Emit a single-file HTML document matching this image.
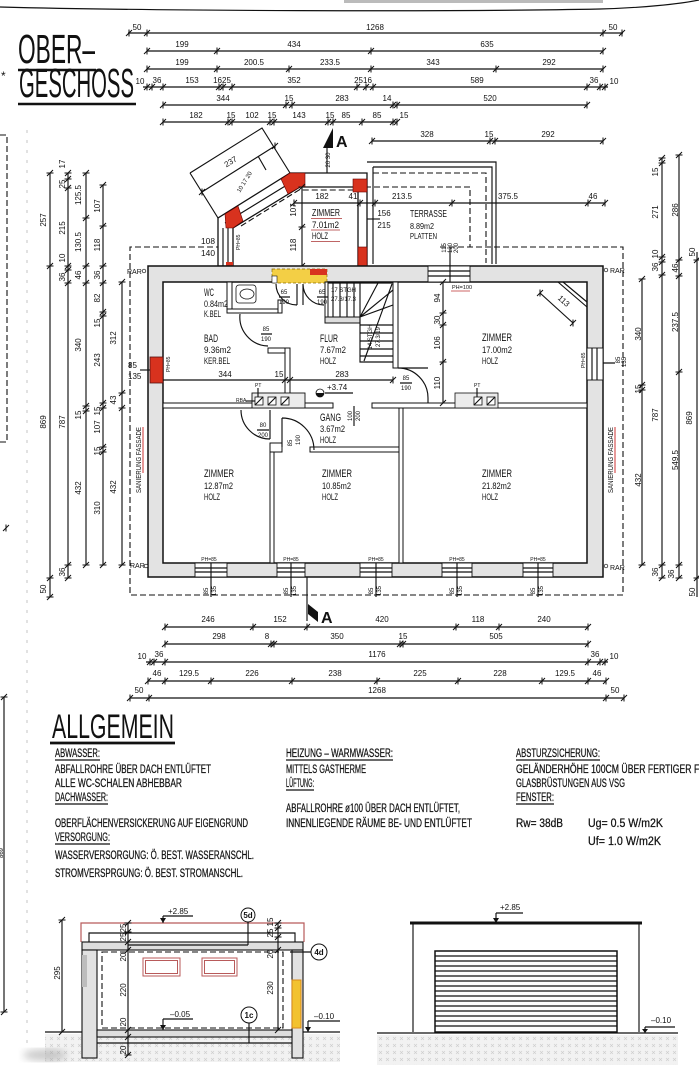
<!DOCTYPE html>
<html><head><meta charset="utf-8"><style>
html,body{margin:0;padding:0;background:#fff;}
svg{display:block}
text{font-family:"Liberation Sans",Arial,sans-serif;fill:#111}
.n{font-size:8px;text-anchor:middle}
.s{font-size:6px;text-anchor:middle}
.t{font-size:5px}
.l{stroke:#111;stroke-width:1.15;fill:none}
.dsh{stroke:#111;stroke-width:1.1;fill:none;stroke-dasharray:6,3}
.iw{fill:#fff;stroke:#111;stroke-width:1}
.rm{font-size:11px}
.b{font-size:11.5px;stroke:#111;stroke-width:0.25}
</style></head><body>
<svg xmlns="http://www.w3.org/2000/svg" xmlns:xlink="http://www.w3.org/1999/xlink" width="699" height="1080" viewBox="0 0 699 1080">
<defs>
<g id="h"><path d="M-3,3L3,-3M0,-3.5V3.5" stroke="#111" stroke-width="1" fill="none"/></g>
<g id="v"><path d="M-3,3L3,-3M-3.5,0H3.5" stroke="#111" stroke-width="1" fill="none"/></g>
<pattern id="hat" width="7" height="7" patternUnits="userSpaceOnUse"><rect width="7" height="7" fill="#f2f2f2"/><path d="M1,1L4,4M4,1L1,4" stroke="#cdcdcd" stroke-width="0.6"/></pattern>
<filter id="bl"><feGaussianBlur stdDeviation="4"/></filter>
</defs>
<rect width="699" height="1080" fill="#fff"/>

<!-- top sheet edge -->
<path d="M0,7 C150,11 450,12 600,9 C640,8 680,4 699,0" class="l" stroke-width="1.5"/>
<rect x="344" y="0" width="259" height="3" fill="#bbb"/>
<line x1="27" y1="130" x2="27" y2="1050" stroke="#e2e2e2" stroke-width="2" stroke-dasharray="3,7"/>

<!-- Title -->
<text x="18" y="63" font-size="41" textLength="77" lengthAdjust="spacingAndGlyphs">OBER–</text>
<line x1="18" y1="70" x2="96" y2="70" stroke="#111" stroke-width="2.6"/>
<text x="19" y="97" font-size="41" textLength="115" lengthAdjust="spacingAndGlyphs">GESCHOSS</text>
<line x1="18" y1="104" x2="136" y2="104" stroke="#111" stroke-width="2.6"/>
<text x="1" y="80" font-size="12">*</text>

<path d="M0,135 H7 V442 H0" class="dsh" stroke-dasharray="9,5"/>
<use href="#h" x="6" y="528"/>

<!-- TOP DIMENSIONS -->
<g class="l">
<path d="M128,33H623 M147,51H603 M147,69H603 M143,87H608 M163,105H587 M163,122H397 M372,141H603"/>
</g>
<use href="#h" x="129" y="33"/><use href="#h" x="147" y="33"/><use href="#h" x="603" y="33"/><use href="#h" x="622" y="33"/>
<text class="n" x="137" y="30">50</text><text class="n" x="375" y="30">1268</text><text class="n" x="613" y="30">50</text>
<use href="#h" x="147" y="51"/><use href="#h" x="217" y="51"/><use href="#h" x="371" y="51"/><use href="#h" x="603" y="51"/>
<text class="n" x="182" y="47">199</text><text class="n" x="294" y="47">434</text><text class="n" x="487" y="47">635</text>
<use href="#h" x="147" y="69"/><use href="#h" x="217" y="69"/><use href="#h" x="289" y="69"/><use href="#h" x="371" y="69"/><use href="#h" x="496" y="69"/><use href="#h" x="603" y="69"/>
<text class="n" x="182" y="65">199</text><text class="n" x="254" y="65">200.5</text><text class="n" x="330" y="65">233.5</text><text class="n" x="433" y="65">343</text><text class="n" x="549" y="65">292</text>
<use href="#h" x="147" y="87"/><use href="#h" x="152" y="87"/><use href="#h" x="163" y="87"/><use href="#h" x="219" y="87"/><use href="#h" x="223" y="87"/><use href="#h" x="232" y="87"/><use href="#h" x="357" y="87"/><use href="#h" x="366" y="87"/><use href="#h" x="373" y="87"/><use href="#h" x="587" y="87"/><use href="#h" x="600" y="87"/><use href="#h" x="605" y="87"/>
<text class="n" x="140" y="84">10</text><text class="n" x="157" y="83">36</text><text class="n" x="192" y="83">153</text><text class="n" x="222" y="83" font-size="7">1625</text><text class="n" x="294" y="83">352</text><text class="n" x="363" y="83" font-size="7">2516</text><text class="n" x="477" y="83">589</text><text class="n" x="594" y="83">36</text><text class="n" x="614" y="84">10</text>
<use href="#h" x="163" y="105"/><use href="#h" x="286" y="105"/><use href="#h" x="292" y="105"/><use href="#h" x="393" y="105"/><use href="#h" x="397" y="105"/><use href="#h" x="587" y="105"/>
<text class="n" x="223" y="101">344</text><text class="n" x="289" y="101">15</text><text class="n" x="342" y="101">283</text><text class="n" x="387" y="101">14</text><text class="n" x="490" y="101">520</text>
<use href="#h" x="163" y="122"/><use href="#h" x="228" y="122"/><use href="#h" x="232" y="122"/><use href="#h" x="270" y="122"/><use href="#h" x="274" y="122"/><use href="#h" x="328" y="122"/><use href="#h" x="333" y="122"/><use href="#h" x="362" y="122"/><use href="#h" x="393" y="122"/><use href="#h" x="397" y="122"/>
<text class="n" x="196" y="118">182</text><text class="n" x="231" y="118">15</text><text class="n" x="252" y="118">102</text><text class="n" x="272" y="118">15</text><text class="n" x="299" y="118">143</text><text class="n" x="330" y="118">15</text><text class="n" x="346" y="118">85</text><text class="n" x="377" y="118">85</text><text class="n" x="404" y="118">15</text>
<use href="#h" x="372" y="141"/><use href="#h" x="490" y="141"/><use href="#h" x="495" y="141"/><use href="#h" x="603" y="141"/>
<text class="n" x="427" y="137">328</text><text class="n" x="489" y="137">15</text><text class="n" x="548" y="137">292</text>

<!-- LEFT VERTICAL DIMENSIONS -->
<g class="l"><path d="M50,173V597 M68,173V578 M86,173V565 M103,185V565 M122,282V565"/></g>
<use href="#v" x="50" y="173"/><use href="#v" x="50" y="266"/><use href="#v" x="50" y="578"/><use href="#v" x="50" y="597"/>
<use href="#v" x="68" y="173"/><use href="#v" x="68" y="179"/><use href="#v" x="68" y="188"/><use href="#v" x="68" y="266"/><use href="#v" x="68" y="270"/><use href="#v" x="68" y="283"/><use href="#v" x="68" y="565"/><use href="#v" x="68" y="578"/>
<use href="#v" x="86" y="173"/><use href="#v" x="86" y="218"/><use href="#v" x="86" y="266"/><use href="#v" x="86" y="283"/><use href="#v" x="86" y="406"/><use href="#v" x="86" y="411"/><use href="#v" x="86" y="565"/>
<use href="#v" x="103" y="185"/><use href="#v" x="103" y="226"/><use href="#v" x="103" y="266"/><use href="#v" x="103" y="283"/><use href="#v" x="103" y="312"/><use href="#v" x="103" y="316"/><use href="#v" x="103" y="403"/><use href="#v" x="103" y="408"/><use href="#v" x="103" y="447"/><use href="#v" x="103" y="452"/><use href="#v" x="103" y="565"/>
<use href="#v" x="122" y="282"/><use href="#v" x="122" y="393"/><use href="#v" x="122" y="408"/><use href="#v" x="122" y="565"/>
<g class="n">
<text transform="translate(46,220) rotate(-90)">257</text><text transform="translate(46,422) rotate(-90)">869</text><text transform="translate(46,589) rotate(-90)">50</text>
<text transform="translate(65,164) rotate(-90)">17</text><text transform="translate(65,184) rotate(-90)">25</text><text transform="translate(65,228) rotate(-90)">215</text><text transform="translate(65,258) rotate(-90)">10</text><text transform="translate(65,277) rotate(-90)">36</text><text transform="translate(65,422) rotate(-90)">787</text><text transform="translate(65,572) rotate(-90)">36</text>
<text transform="translate(81,195) rotate(-90)">125.5</text><text transform="translate(81,242) rotate(-90)">130.5</text><text transform="translate(81,275) rotate(-90)">46</text><text transform="translate(81,345) rotate(-90)">340</text><text transform="translate(81,415) rotate(-90)">15</text><text transform="translate(81,488) rotate(-90)">432</text>
<text transform="translate(100,206) rotate(-90)">107</text><text transform="translate(100,245) rotate(-90)">118</text><text transform="translate(100,275) rotate(-90)">36</text><text transform="translate(100,298) rotate(-90)">82</text><text transform="translate(100,323) rotate(-90)">15</text><text transform="translate(100,360) rotate(-90)">243</text><text transform="translate(100,411) rotate(-90)">15</text><text transform="translate(100,427) rotate(-90)">107</text><text transform="translate(100,451) rotate(-90)">15</text><text transform="translate(100,508) rotate(-90)">310</text>
<text transform="translate(116,338) rotate(-90)">312</text><text transform="translate(116,400) rotate(-90)">43</text><text transform="translate(116,487) rotate(-90)">432</text>
</g>

<!-- RIGHT VERTICAL DIMENSIONS -->
<g class="l"><path d="M642,279V565 M662,158V578 M679,155V578 M697,252V597"/></g>
<use href="#v" x="642" y="279"/><use href="#v" x="642" y="385"/><use href="#v" x="642" y="390"/><use href="#v" x="642" y="565"/>
<use href="#v" x="662" y="158"/><use href="#v" x="662" y="163"/><use href="#v" x="662" y="257"/><use href="#v" x="662" y="262"/><use href="#v" x="662" y="275"/><use href="#v" x="662" y="565"/><use href="#v" x="662" y="578"/>
<use href="#v" x="679" y="155"/><use href="#v" x="679" y="260"/><use href="#v" x="679" y="276"/><use href="#v" x="679" y="372"/><use href="#v" x="679" y="565"/><use href="#v" x="679" y="578"/>
<use href="#v" x="697" y="260"/><use href="#v" x="697" y="578"/>
<g class="n">
<text transform="translate(641,334) rotate(-90)">340</text><text transform="translate(641,389) rotate(-90)">15</text><text transform="translate(641,480) rotate(-90)">432</text>
<text transform="translate(658,172) rotate(-90)">15</text><text transform="translate(658,212) rotate(-90)">271</text><text transform="translate(658,254) rotate(-90)">10</text><text transform="translate(658,267) rotate(-90)">36</text><text transform="translate(658,415) rotate(-90)">787</text><text transform="translate(658,572) rotate(-90)">36</text>
<text transform="translate(678,210) rotate(-90)">286</text><text transform="translate(678,268) rotate(-90)">46</text><text transform="translate(678,322) rotate(-90)">237.5</text><text transform="translate(678,460) rotate(-90)">549.5</text><text transform="translate(674,574) rotate(-90)">36</text>
<text transform="translate(692,418) rotate(-90)">869</text><text transform="translate(695,252) rotate(-90)">50</text><text transform="translate(695,592) rotate(-90)">50</text>
</g>

<!-- DASHED FACADE LINES -->
<path d="M440,247 H623 V595 H130 V247 H218" class="dsh"/>
<path d="M365,187 H470 V247" class="dsh"/>
<path d="M373,173 H486 V263" class="dsh"/>

<!-- TERRACE -->
<path d="M367,162 H496 V264 M373,167 H492 V264 M373,167 V264" class="l"/>

<!-- 237 bay box -->
<path d="M190,173 L262,128 L290,173 M190,173 L218,218" class="l"/>
<path d="M202,192 L275,146 M258,156 L266,170" class="l" stroke-width="0.8"/>
<use href="#h" x="202" y="192"/><use href="#h" x="275" y="146"/>
<text class="n" transform="translate(232,164) rotate(-32)">237</text>
<text class="s" transform="translate(246,183) rotate(-58)">10 17 20</text>

<!-- ANNEX -->
<path d="M218,266 V218 L290,173 H367 V266 H358 V187 H300 L233,228 V266 Z" fill="#fff" stroke="#111" stroke-width="1.3"/>
<path d="M225,223 L295,180 M223,228 V266 M228,228 V266" class="l" stroke-width="0.7"/>
<path d="M241,226 L299,190 H354" class="dsh" stroke-dasharray="4,3" stroke-width="0.9"/>
<polygon points="225,214 238,206 243,221 233,228 226,228" fill="#d8321e" stroke="#600" stroke-width="0.6"/>
<polygon points="281,179 290,173 305,173 305,187 300,187 288,194" fill="#d8321e" stroke="#600" stroke-width="0.6"/>
<rect x="226" y="262" width="7" height="6" fill="#d8321e"/>
<rect x="353" y="179" width="14" height="13" fill="#d8321e" stroke="#600" stroke-width="0.6"/>
<rect x="358" y="247" width="9" height="21" fill="#d8321e" stroke="#600" stroke-width="0.6"/>
<!-- section A top -->
<line x1="327" y1="147" x2="327" y2="173" class="l"/>
<polygon points="323,148 333,128 333,148" fill="#111"/>
<text x="336" y="147" font-size="16" font-weight="bold">A</text>
<text class="s" transform="translate(330,160) rotate(-90)">20 30</text>

<!-- annex dims -->
<path d="M294,203 H605 M302,187 V266" class="l"/>
<use href="#h" x="294" y="203"/><use href="#h" x="360" y="203"/><use href="#h" x="375" y="203"/><use href="#h" x="452" y="203"/><use href="#h" x="588" y="203"/><use href="#h" x="605" y="203"/>
<use href="#v" x="302" y="187"/><use href="#v" x="302" y="227"/><use href="#v" x="302" y="266"/>
<text class="n" x="322" y="199">182</text><text class="n" x="353" y="199">41</text><text class="n" x="402" y="199">213.5</text><text class="n" x="508" y="199">375.5</text><text class="n" x="593" y="199">46</text>
<text class="n" transform="translate(296,210) rotate(-90)">107</text><text class="n" transform="translate(296,245) rotate(-90)">118</text>
<text x="312" y="216" font-size="10" textLength="28" lengthAdjust="spacingAndGlyphs">ZIMMER</text>
<text x="312" y="228" font-size="9" textLength="27" lengthAdjust="spacingAndGlyphs">7.01m2</text>
<text x="312" y="239" font-size="9" textLength="16" lengthAdjust="spacingAndGlyphs">HOLZ</text>
<path d="M311,218.5H342 M311,230H340 M311,241.5H340" stroke="#a33" stroke-width="0.8"/>
<line x1="367" y1="219" x2="380" y2="219" class="l" stroke-width="0.8"/>
<text class="n" x="384" y="216">156</text><text class="n" x="384" y="228">215</text>
<text x="410" y="217" font-size="10" textLength="37" lengthAdjust="spacingAndGlyphs">TERRASSE</text>
<text x="410" y="229" font-size="8" textLength="24" lengthAdjust="spacingAndGlyphs">8.89m2</text>
<text x="410" y="239" font-size="8" textLength="27" lengthAdjust="spacingAndGlyphs">PLATTEN</text>
<text class="s" transform="translate(446,248) rotate(-90)">115</text><text class="s" transform="translate(452,248) rotate(-90)">120</text><text class="s" transform="translate(458,248) rotate(-90)">200</text>
<text x="201" y="244" font-size="8" textLength="14" lengthAdjust="spacingAndGlyphs">108</text>
<text x="201" y="256" font-size="8" textLength="14" lengthAdjust="spacingAndGlyphs">140</text>
<text class="t" transform="translate(240,250) rotate(-90)">PH=85</text>

<!-- MAIN WALLS -->
<path d="M148,266 H603 V577 H148 Z M163,282 V563 H587 V282 Z" fill="#e3e3e3" fill-rule="evenodd" stroke="#111" stroke-width="1.5"/>
<rect x="272" y="269" width="55" height="14" fill="#f3cf45" stroke="#8a6d00" stroke-width="0.7" stroke-dasharray="3,2"/>
<rect x="272" y="276" width="5" height="7" fill="#fff" stroke="#111" stroke-width="0.6"/>
<rect x="310" y="269" width="17" height="6" fill="#d8321e"/>
<rect x="428" y="266" width="42" height="16" fill="#fff" stroke="#111" stroke-width="0.9"/>
<path d="M428,271 H470 M428,276 H470 M450,247 V282" class="l" stroke-width="0.8"/>
<text x="452" y="289" font-size="5.5">PH=100</text>
<line x1="451" y1="291" x2="470" y2="291" stroke="#b33" stroke-width="0.7"/>
<rect x="150" y="357" width="13" height="26" fill="#d8321e" stroke="#511" stroke-width="0.8"/>
<text x="128" y="368" font-size="8">85</text><text x="128" y="379" font-size="8">135</text>
<line x1="140" y1="370" x2="150" y2="370" class="l" stroke-width="0.7"/>
<text class="t" transform="translate(170,372) rotate(-90)">PH=85</text>
<rect x="587" y="348" width="16" height="32" fill="#fff" stroke="#111" stroke-width="0.9"/>
<path d="M592,348 V380 M597,348 V380 M603,363 H615" class="l" stroke-width="0.7"/>
<text class="t" transform="translate(585,368) rotate(-90)">PH=85</text>
<text class="s" transform="translate(620,360) rotate(-90)">85</text><text class="s" transform="translate(626,362) rotate(-90)">135</text>
<g fill="#fff" stroke="#111" stroke-width="0.9">
<rect x="195" y="563" width="32" height="14"/><rect x="277" y="563" width="28" height="14"/><rect x="360" y="563" width="32" height="14"/><rect x="442" y="563" width="30" height="14"/><rect x="523" y="563" width="30" height="14"/>
</g>
<path d="M195,568H227M195,572H227M277,568H305M277,572H305M360,568H392M360,572H392M442,568H472M442,572H472M523,568H553M523,572H553" class="l" stroke-width="0.7"/>
<path d="M211,563V597M291,563V597M376,563V597M457,563V597M538,563V597" class="l" stroke-width="0.8"/>
<g class="t" text-anchor="middle"><text x="209" y="561">PH=85</text><text x="291" y="561">PH=85</text><text x="376" y="561">PH=85</text><text x="457" y="561">PH=85</text><text x="538" y="561">PH=85</text></g>
<g class="s">
<text transform="translate(208,591) rotate(-90)">85</text><text transform="translate(216,591) rotate(-90)">135</text>
<text transform="translate(288,591) rotate(-90)">85</text><text transform="translate(296,591) rotate(-90)">135</text>
<text transform="translate(373,591) rotate(-90)">85</text><text transform="translate(381,591) rotate(-90)">135</text>
<text transform="translate(454,591) rotate(-90)">85</text><text transform="translate(462,591) rotate(-90)">135</text>
<text transform="translate(535,591) rotate(-90)">85</text><text transform="translate(543,591) rotate(-90)">135</text>
</g>
<g font-size="7"><text x="127" y="274">RAR</text><text x="130" y="568">RAR</text><text x="610" y="273">RAR</text><text x="610" y="570">RAR</text></g>
<g fill="#fff" stroke="#111" stroke-width="0.7"><circle cx="144" cy="271" r="1.8"/><circle cx="146" cy="566" r="1.8"/><circle cx="606" cy="270" r="1.8"/><circle cx="606" cy="566" r="1.8"/></g>
<text font-size="7.5" text-anchor="middle" transform="translate(141,460) rotate(-90)" textLength="66" lengthAdjust="spacingAndGlyphs">SANIERUNG FASSADE</text>
<line x1="143" y1="427" x2="143" y2="473" stroke="#c33" stroke-width="1"/>
<text font-size="7.5" text-anchor="middle" transform="translate(613,460) rotate(-90)" textLength="66" lengthAdjust="spacingAndGlyphs">SANIERUNG FASSADE</text>
<line x1="615" y1="427" x2="615" y2="473" stroke="#c33" stroke-width="1"/>

<!-- INTERIOR WALLS -->
<g class="iw">
<rect x="163" y="403" width="170" height="5"/>
<rect x="372" y="403" width="215" height="5"/>
<rect x="393" y="282" width="5" height="86"/>
<rect x="399" y="408" width="4" height="155"/>
<rect x="270" y="443" width="4" height="120"/>
<rect x="310" y="447" width="89" height="5"/>
<rect x="270" y="443" width="12" height="9"/>
<rect x="227" y="282" width="5" height="31"/>
<rect x="227" y="309" width="51" height="4"/>
<rect x="278" y="300" width="4" height="13"/>
<rect x="268" y="348" width="19" height="5"/>
<rect x="285" y="348" width="5" height="55"/>
<rect x="325" y="282" width="3" height="40"/>
<rect x="325" y="317" width="35" height="6" fill="#ddd"/>
</g>
<path d="M558,282 L587,307 M563,282 L587,302" class="l" stroke-width="1"/>
<path d="M540,293 L573,323" class="l" stroke-width="0.8"/>
<use href="#h" x="540" y="293"/><use href="#h" x="573" y="323"/>
<text class="n" transform="translate(562,303) rotate(42)">113</text>
<rect x="236" y="285" width="20" height="18" rx="3" fill="#fff" stroke="#111" stroke-width="0.8"/>
<ellipse cx="247" cy="294" rx="7" ry="5" fill="#fff" stroke="#111" stroke-width="0.8"/>
<g class="l" stroke-width="0.7">
<path d="M328,283 H393 M333,283V317 M340,283V317 M347,283V317 M354,283V317 M360,283V362 H393"/>
<path d="M360,317 L393,290 M360,317 L378,283 M360,317 L393,305"/>
<path d="M360,325H393 M360,333H393 M360,341H393 M360,349H393 M360,356H393"/>
<path d="M364,361 L392,284"/>
</g>
<text x="331" y="292" font-size="6">17 STGH</text>
<text x="331" y="301" font-size="6">27.3/17.3</text>
<text class="s" transform="translate(372,337) rotate(-90)">14 STGH</text>
<text class="s" transform="translate(380,337) rotate(-90)">27.3/19</text>
<g class="l" stroke-width="0.8">
<path d="M276,284 A21,21 0 0 0 297,305 M297,284 V305"/>
<path d="M303,284 V305 M303,284 A21,21 0 0 0 324,305"/>
<path d="M240,314 A29,29 0 0 0 268,346"/>
<path d="M398,368 A30,30 0 0 1 428,398 V403 M398,368 H428"/>
<path d="M241,410 A29,29 0 0 0 270,439 M270,410 V439"/>
<path d="M282,418 A32,32 0 0 1 314,450 M282,418 V447"/>
</g>
<g class="s" font-size="7.5">
<text x="284" y="294">65</text><text x="284" y="304">190</text>
<text x="322" y="294">65</text><text x="322" y="304">190</text>
<text x="266" y="331">85</text><text x="266" y="341">190</text>
<text x="406" y="380">85</text><text x="406" y="390">190</text>
<text x="263" y="427">80</text><text x="263" y="437">200</text>
</g>
<path d="M279,297H290 M317,297H328 M261,334H272 M400,383H412 M257,430H269" class="l" stroke-width="0.6"/>
<text class="s" font-size="7" transform="translate(292,443) rotate(-90)">85</text><text class="s" font-size="7" transform="translate(300,440) rotate(-90)">190</text>
<text class="s" font-size="7" transform="translate(352,416) rotate(-90)">100</text><text class="s" font-size="7" transform="translate(360,416) rotate(-90)">200</text>
<line x1="354" y1="406" x2="354" y2="426" class="l" stroke-width="0.6"/>
<rect x="252" y="393" width="53" height="15" fill="#ececec" stroke="#111" stroke-width="0.9"/>
<g fill="#fff" stroke="#111" stroke-width="0.8">
<rect x="255" y="397" width="8" height="8"/><rect x="268" y="397" width="8" height="8"/><rect x="281" y="397" width="8" height="8"/>
<rect x="455" y="393" width="43" height="15" fill="#ececec"/>
<rect x="474" y="397" width="8" height="8"/><rect x="487" y="397" width="8" height="8"/>
</g>
<path d="M255,405L263,397M268,405L276,397M281,405L289,397M474,405L482,397M487,405L495,397" class="l" stroke-width="0.8"/>
<text x="236" y="402" font-size="5">RBA</text><line x1="246" y1="401" x2="255" y2="401" class="l" stroke-width="0.5"/>
<text x="255" y="387" font-size="5">PT</text><line x1="258" y1="388" x2="258" y2="397" class="l" stroke-width="0.5"/>
<text x="474" y="387" font-size="5">PT</text><line x1="477" y1="388" x2="477" y2="397" class="l" stroke-width="0.5"/>
<path d="M163,380 H393 M443,282 V403" class="l" stroke-width="0.8"/>
<use href="#h" x="285" y="380"/><use href="#h" x="290" y="380"/><use href="#h" x="393" y="380"/>
<use href="#v" x="443" y="282"/><use href="#v" x="443" y="313"/><use href="#v" x="443" y="325"/><use href="#v" x="443" y="362"/><use href="#v" x="443" y="403"/>
<text class="n" x="225" y="377">344</text><text class="n" x="279" y="377">15</text><text class="n" x="342" y="377">283</text>
<text class="n" transform="translate(440,298) rotate(-90)">94</text><text class="n" transform="translate(440,320) rotate(-90)">30</text><text class="n" transform="translate(440,343) rotate(-90)">106</text><text class="n" transform="translate(440,383) rotate(-90)">110</text>
<circle cx="320" cy="393" r="4" fill="#fff" stroke="#111" stroke-width="0.8"/>
<path d="M316,393 A4,4 0 0 0 324,393 Z" fill="#111"/>
<line x1="325" y1="393" x2="353" y2="393" class="l" stroke-width="0.8"/>
<text x="327" y="390" font-size="8">+3.74</text>

<!-- ROOM LABELS -->
<g class="rm">
<text x="204" y="296" textLength="10" lengthAdjust="spacingAndGlyphs">WC</text>
<text x="204" y="307" font-size="9" textLength="24" lengthAdjust="spacingAndGlyphs">0.84m2</text>
<text x="204" y="317" font-size="9" textLength="17" lengthAdjust="spacingAndGlyphs">K.BEL</text>
<text x="204" y="342" textLength="14" lengthAdjust="spacingAndGlyphs">BAD</text>
<text x="204" y="353" font-size="9" textLength="27" lengthAdjust="spacingAndGlyphs">9.36m2</text>
<text x="204" y="364" font-size="9" textLength="26" lengthAdjust="spacingAndGlyphs">KER.BEL</text>
<text x="320" y="342" textLength="18" lengthAdjust="spacingAndGlyphs">FLUR</text>
<text x="320" y="353" font-size="9" textLength="26" lengthAdjust="spacingAndGlyphs">7.67m2</text>
<text x="320" y="364" font-size="9" textLength="16" lengthAdjust="spacingAndGlyphs">HOLZ</text>
<text x="482" y="341" textLength="30" lengthAdjust="spacingAndGlyphs">ZIMMER</text>
<text x="482" y="353" font-size="9" textLength="30" lengthAdjust="spacingAndGlyphs">17.00m2</text>
<text x="482" y="364" font-size="9" textLength="16" lengthAdjust="spacingAndGlyphs">HOLZ</text>
<text x="320" y="421" textLength="21" lengthAdjust="spacingAndGlyphs">GANG</text>
<text x="320" y="432" font-size="9" textLength="25" lengthAdjust="spacingAndGlyphs">3.67m2</text>
<text x="320" y="443" font-size="9" textLength="16" lengthAdjust="spacingAndGlyphs">HOLZ</text>
<text x="204" y="477" textLength="30" lengthAdjust="spacingAndGlyphs">ZIMMER</text>
<text x="204" y="489" font-size="9" textLength="29" lengthAdjust="spacingAndGlyphs">12.87m2</text>
<text x="204" y="500" font-size="9" textLength="16" lengthAdjust="spacingAndGlyphs">HOLZ</text>
<text x="322" y="477" textLength="30" lengthAdjust="spacingAndGlyphs">ZIMMER</text>
<text x="322" y="489" font-size="9" textLength="29" lengthAdjust="spacingAndGlyphs">10.85m2</text>
<text x="322" y="500" font-size="9" textLength="16" lengthAdjust="spacingAndGlyphs">HOLZ</text>
<text x="482" y="477" textLength="30" lengthAdjust="spacingAndGlyphs">ZIMMER</text>
<text x="482" y="489" font-size="9" textLength="29" lengthAdjust="spacingAndGlyphs">21.82m2</text>
<text x="482" y="500" font-size="9" textLength="16" lengthAdjust="spacingAndGlyphs">HOLZ</text>
</g>

<!-- section A bottom -->
<line x1="307" y1="577" x2="307" y2="621" class="l" stroke-width="1.2"/>
<polygon points="308,604 318,612 318,622 308,614" fill="#111"/>
<text x="321" y="623" font-size="16" font-weight="bold">A</text>

<!-- BOTTOM DIMENSIONS -->
<g class="l"><path d="M165,627H588 M165,644H588 M146,662H608 M148,681H606 M130,698H624"/></g>
<use href="#h" x="165" y="627"/><use href="#h" x="253" y="627"/><use href="#h" x="307" y="627"/><use href="#h" x="456" y="627"/><use href="#h" x="499" y="627"/><use href="#h" x="588" y="627"/>
<text class="n" x="208" y="622">246</text><text class="n" x="280" y="622">152</text><text class="n" x="382" y="622">420</text><text class="n" x="478" y="622">118</text><text class="n" x="544" y="622">240</text>
<use href="#h" x="165" y="644"/><use href="#h" x="271" y="644"/><use href="#h" x="274" y="644"/><use href="#h" x="400" y="644"/><use href="#h" x="403" y="644"/><use href="#h" x="588" y="644"/>
<text class="n" x="219" y="639">298</text><text class="n" x="267" y="639">8</text><text class="n" x="337" y="639">350</text><text class="n" x="403" y="639">15</text><text class="n" x="496" y="639">505</text>
<use href="#h" x="150" y="662"/><use href="#h" x="154" y="662"/><use href="#h" x="165" y="662"/><use href="#h" x="588" y="662"/><use href="#h" x="600" y="662"/><use href="#h" x="605" y="662"/>
<text class="n" x="142" y="659">10</text><text class="n" x="159" y="657">36</text><text class="n" x="377" y="657">1176</text><text class="n" x="595" y="657">36</text><text class="n" x="614" y="659">10</text>
<use href="#h" x="148" y="681"/><use href="#h" x="165" y="681"/><use href="#h" x="211" y="681"/><use href="#h" x="292" y="681"/><use href="#h" x="377" y="681"/><use href="#h" x="458" y="681"/><use href="#h" x="542" y="681"/><use href="#h" x="588" y="681"/><use href="#h" x="606" y="681"/>
<text class="n" x="157" y="676">46</text><text class="n" x="189" y="676">129.5</text><text class="n" x="252" y="676">226</text><text class="n" x="335" y="676">238</text><text class="n" x="420" y="676">225</text><text class="n" x="500" y="676">228</text><text class="n" x="565" y="676">129.5</text><text class="n" x="597" y="676">46</text>
<use href="#h" x="130" y="698"/><use href="#h" x="149" y="698"/><use href="#h" x="606" y="698"/><use href="#h" x="624" y="698"/>
<text class="n" x="139" y="693">50</text><text class="n" x="377" y="693">1268</text><text class="n" x="615" y="693">50</text>

<line x1="4" y1="697" x2="4" y2="1012" class="l"/>
<use href="#v" x="4" y="697"/><use href="#v" x="4" y="1012"/>
<text class="s" transform="translate(3,853) rotate(-90)">869</text>

<!-- ALLGEMEIN -->
<text x="52" y="738" font-size="34" textLength="122" lengthAdjust="spacingAndGlyphs">ALLGEMEIN</text>
<line x1="50" y1="743" x2="175" y2="743" stroke="#111" stroke-width="2.8"/>
<g class="b">
<text x="55" y="757" textLength="45" lengthAdjust="spacingAndGlyphs">ABWASSER:</text>
<text x="55" y="773" textLength="156" lengthAdjust="spacingAndGlyphs">ABFALLROHRE ÜBER DACH ENTLÜFTET</text>
<text x="55" y="787" textLength="127" lengthAdjust="spacingAndGlyphs">ALLE WC-SCHALEN ABHEBBAR</text>
<text x="55" y="801" textLength="53" lengthAdjust="spacingAndGlyphs">DACHWASSER:</text>
<text x="55" y="827" textLength="193" lengthAdjust="spacingAndGlyphs">OBERFLÄCHENVERSICKERUNG AUF EIGENGRUND</text>
<text x="55" y="841" textLength="55" lengthAdjust="spacingAndGlyphs">VERSORGUNG:</text>
<text x="55" y="859" textLength="199" lengthAdjust="spacingAndGlyphs">WASSERVERSORGUNG: Ö. BEST. WASSERANSCHL.</text>
<text x="55" y="877" textLength="188" lengthAdjust="spacingAndGlyphs">STROMVERSPRGUNG: Ö. BEST. STROMANSCHL.</text>
<text x="286" y="757" textLength="107" lengthAdjust="spacingAndGlyphs">HEIZUNG – WARMWASSER:</text>
<text x="286" y="773" textLength="80" lengthAdjust="spacingAndGlyphs">MITTELS GASTHERME</text>
<text x="286" y="787" textLength="28" lengthAdjust="spacingAndGlyphs">LÜFTUNG:</text>
<text x="286" y="812" textLength="174" lengthAdjust="spacingAndGlyphs">ABFALLROHRE ø100 ÜBER DACH ENTLÜFTET,</text>
<text x="286" y="827" textLength="186" lengthAdjust="spacingAndGlyphs">INNENLIEGENDE RÄUME BE- UND ENTLÜFTET</text>
<text x="516" y="757" textLength="84" lengthAdjust="spacingAndGlyphs">ABSTURZSICHERUNG:</text>
<text x="516" y="773" textLength="190" lengthAdjust="spacingAndGlyphs">GELÄNDERHÖHE 100CM ÜBER FERTIGER FO</text>
<text x="516" y="787" textLength="109" lengthAdjust="spacingAndGlyphs">GLASBRÜSTUNGEN AUS VSG</text>
<text x="516" y="801" textLength="38" lengthAdjust="spacingAndGlyphs">FENSTER:</text>
<text x="516" y="827" textLength="47" lengthAdjust="spacingAndGlyphs">Rw= 38dB</text>
<text x="588" y="827" textLength="75" lengthAdjust="spacingAndGlyphs">Ug= 0.5 W/m2K</text>
<text x="588" y="845" textLength="73" lengthAdjust="spacingAndGlyphs">Uf= 1.0 W/m2K</text>
</g>
<path d="M55,760H100 M55,804H108 M55,844H110 M286,760H393 M286,790H314 M516,760H600 M516,804H554" class="l" stroke-width="0.9"/>

<!-- BOTTOM LEFT SECTION -->
<rect x="45" y="1034" width="295" height="28" fill="url(#hat)"/>
<ellipse cx="45" cy="1055" rx="22" ry="6" fill="#999" opacity="0.5" filter="url(#bl)"/>
<path d="M45,1032H82 M303,1032H340" class="l"/>
<path d="M81,942 V923 H304 V942" fill="none" stroke="#b85a5a" stroke-width="1.2"/>
<path d="M89,942 V933 H295 V942" class="l" stroke-width="0.8"/>
<rect x="82" y="942" width="221" height="8" fill="#dedede" stroke="#111" stroke-width="1.1"/>
<rect x="82" y="950" width="15" height="108" fill="#e2e2e2" stroke="#111" stroke-width="1.1"/>
<rect x="82" y="955" width="5" height="32" fill="#bdbdbd"/>
<rect x="292" y="950" width="11" height="108" fill="#e2e2e2" stroke="#111" stroke-width="1.1"/>
<rect x="292" y="980" width="9" height="48" fill="#f2c230" stroke="#d98a1a" stroke-width="1"/>
<rect x="97" y="1030" width="195" height="7" fill="#dedede" stroke="#111" stroke-width="1.1"/>
<line x1="97" y1="1043" x2="292" y2="1043" class="l"/>
<rect x="102" y="952" width="181" height="76" class="dsh" stroke-dasharray="5,3"/>
<g fill="none" stroke="#b85a5a" stroke-width="1"><rect x="143" y="958" width="37" height="18"/><rect x="145.5" y="960.5" width="32" height="13"/><rect x="202" y="958" width="35" height="18"/><rect x="204.5" y="960.5" width="30" height="13"/></g>
<path d="M62,920V1032 M128,923V1055 M278,923V1030" class="l" stroke-width="0.8"/>
<use href="#v" x="62" y="920"/><use href="#v" x="62" y="1032"/>
<use href="#v" x="128" y="923"/><use href="#v" x="128" y="932"/><use href="#v" x="128" y="942"/><use href="#v" x="128" y="950"/><use href="#v" x="128" y="1030"/><use href="#v" x="128" y="1037"/><use href="#v" x="128" y="1055"/>
<use href="#v" x="278" y="923"/><use href="#v" x="278" y="928"/><use href="#v" x="278" y="937"/><use href="#v" x="278" y="950"/><use href="#v" x="278" y="1030"/>
<g class="n" font-size="7.5">
<text transform="translate(60,973) rotate(-90)">295</text>
<text transform="translate(126,928) rotate(-90)">25</text><text transform="translate(126,937) rotate(-90)">25</text><text transform="translate(126,957) rotate(-90)">20</text><text transform="translate(126,990) rotate(-90)">220</text><text transform="translate(126,1022) rotate(-90)">20</text><text transform="translate(126,1050) rotate(-90)">20</text>
<text transform="translate(273,922) rotate(-90)">15</text><text transform="translate(273,933) rotate(-90)">25</text><text transform="translate(273,954) rotate(-90)">20</text><text transform="translate(273,988) rotate(-90)">230</text>
</g>
<g fill="#fff" stroke="#111" stroke-width="1"><circle cx="248" cy="915" r="7"/><circle cx="319" cy="952" r="8"/><circle cx="249" cy="1015" r="8"/></g>
<g font-size="8" font-weight="bold" text-anchor="middle"><text x="248" y="918">5d</text><text x="319" y="955">4d</text><text x="249" y="1018">1c</text></g>
<path d="M248,922V945 M128,945H248 M290,952H311 M249,1023V1043" class="l" stroke-width="0.8"/>
<path d="M163,916H193 M163,916V923 M163,1019H193 M163,1019V1030 M308,1021H340 M308,1021V1032" class="l" stroke-width="0.8"/>
<path d="M160,918L163,923L166,918Z M160,1025L163,1030L166,1025Z M305,1027L308,1032L311,1027Z" fill="#111"/>
<text x="168" y="914" font-size="8">+2.85</text>
<text x="170" y="1017" font-size="8">–0.05</text>
<text x="314" y="1019" font-size="8">–0.10</text>

<!-- BOTTOM RIGHT ELEVATION -->
<rect x="377" y="1035" width="301" height="30" fill="url(#hat)"/>
<line x1="377" y1="1033" x2="678" y2="1033" class="l" stroke-width="1.2"/>
<line x1="410" y1="923" x2="642" y2="923" stroke="#111" stroke-width="3"/>
<path d="M413,923V1032 M639,923V1032" class="l" stroke-width="1.2"/>
<rect x="435" y="951" width="182" height="81" fill="#fff" stroke="#111" stroke-width="1.5"/>
<path d="M435,956H617M435,961H617M435,966H617M435,971H617M435,976H617M435,981H617M435,986H617M435,991H617M435,996H617M435,1001H617M435,1006H617M435,1011H617M435,1016H617M435,1021H617M435,1026H617" class="l" stroke-width="1"/>
<path d="M496,913H523 M496,913V923 M645,1027H675 M645,1027V1033" class="l" stroke-width="0.8"/>
<path d="M493,918L496,923L499,918Z M642,1029L645,1033L648,1029Z" fill="#111"/>
<text x="500" y="910" font-size="8">+2.85</text>
<text x="651" y="1023" font-size="8">–0.10</text>
</svg>
</body></html>
